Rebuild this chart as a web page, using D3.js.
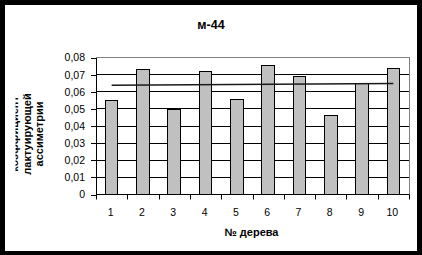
<!DOCTYPE html>
<html>
<head>
<meta charset="utf-8">
<script src="https://cdn.jsdelivr.net/npm/d3@7"></script>
<style>
  html, body { margin: 0; padding: 0; background: #000; }
  svg { display: block; font-family: "Liberation Sans", Arial, sans-serif; }
</style>
</head>
<body>
<div id="chart"></div>
<script>
// chart data
const treeNumbers = ["1", "2", "3", "4", "5", "6", "7", "8", "9", "10"];
const asymmetry = [0.0551, 0.0730, 0.0498, 0.0720, 0.0555, 0.0753, 0.0689, 0.0461, 0.0648, 0.0736];
// straight line drawn over the bars (from first to last tree)
const lineTrees = ["1", "10"];
const lineValues = [0.0638, 0.0648];
const yTickValues = [0, 0.01, 0.02, 0.03, 0.04, 0.05, 0.06, 0.07, 0.08];
const chartTitle = "м-44";
const xTitle = "№ дерева";
const yTitleLines = ["коэффициент", "лактуирующей", "ассиметрии"];

const width = 422, height = 255;
const plot = { left: 96, right: 409, top: 57.5, bottom: 194.5 };

const svg = d3.select("#chart").append("svg")
  .attr("width", width)
  .attr("height", height);

// black frame, white page
svg.append("rect").attr("width", width).attr("height", height).attr("fill", "#000");
svg.append("rect")
  .attr("x", 5).attr("y", 5)
  .attr("width", 412).attr("height", 246)
  .attr("fill", "#fff");

const x = d3.scaleBand()
  .domain(treeNumbers)
  .range([plot.left, plot.right])
  .paddingInner(0.6)
  .paddingOuter(0.3);

const y = d3.scaleLinear()
  .domain([0, 0.08])
  .range([plot.bottom, plot.top]);

const step = x.step();
const center = d => x(d) + x.bandwidth() / 2;

// gridlines (black), top one is the grey plot border
svg.append("g")
  .selectAll("line")
  .data(yTickValues.filter(v => v > 0 && v < 0.08))
  .join("line")
  .attr("x1", plot.left).attr("x2", plot.right)
  .attr("y1", d => y(d)).attr("y2", d => y(d))
  .attr("stroke", "#000")
  .attr("shape-rendering", "crispEdges");

svg.append("path")
  .attr("d", `M${plot.left},${plot.top}H${plot.right}V${plot.bottom}`)
  .attr("fill", "none")
  .attr("stroke", "#808080")
  .attr("shape-rendering", "crispEdges");

// bars
svg.append("g")
  .selectAll("rect")
  .data(treeNumbers)
  .join("rect")
  .attr("x", d => x(d))
  .attr("y", (d, i) => y(asymmetry[i]))
  .attr("width", x.bandwidth())
  .attr("height", (d, i) => y(0) - y(asymmetry[i]))
  .attr("fill", "#c0c0c0")
  .attr("stroke", "#000")
  .attr("shape-rendering", "crispEdges");

// line across the bars
svg.append("path")
  .datum(lineTrees.map((t, i) => [center(t), y(lineValues[i])]))
  .attr("d", d3.line())
  .attr("fill", "none")
  .attr("stroke", "#1a1a1a")
  .attr("stroke-width", 1.6);

// y axis
const yAxis = svg.append("g")
  .attr("transform", `translate(${plot.left},0)`)
  .call(d3.axisLeft(y)
    .tickValues(yTickValues)
    .tickSize(5)
    .tickPadding(6)
    .tickFormat(d => d === 0 ? "0" : d3.format(".2f")(d).replace(".", ",")));
yAxis.select(".domain").attr("stroke", "#000").attr("shape-rendering", "crispEdges");
yAxis.selectAll(".tick line").attr("stroke", "#000").attr("shape-rendering", "crispEdges");
yAxis.selectAll("text")
  .attr("font-family", "'Liberation Sans', Arial, sans-serif")
  .attr("font-size", 10.5)
  .attr("fill", "#000");

// x axis: line at zero, ticks between categories
const xg = svg.append("g");
xg.append("line")
  .attr("x1", plot.left).attr("x2", plot.right)
  .attr("y1", y(0)).attr("y2", y(0))
  .attr("stroke", "#000")
  .attr("shape-rendering", "crispEdges");
xg.selectAll(".xtick")
  .data(d3.range(treeNumbers.length + 1))
  .join("line")
  .attr("class", "xtick")
  .attr("x1", i => Math.round(plot.left + i * step) + 0.5)
  .attr("x2", i => Math.round(plot.left + i * step) + 0.5)
  .attr("y1", y(0)).attr("y2", y(0) + 5)
  .attr("stroke", "#000");
xg.selectAll(".xlabel")
  .data(treeNumbers)
  .join("text")
  .attr("class", "xlabel")
  .attr("x", d => center(d) - 1)
  .attr("y", 216)
  .attr("text-anchor", "middle")
  .attr("font-size", 10.5)
  .text(d => d);

// titles
svg.append("text")
  .attr("x", 211).attr("y", 28.5)
  .attr("text-anchor", "middle")
  .attr("font-size", 12.5)
  .attr("font-weight", "bold")
  .text(chartTitle);

svg.append("text")
  .attr("x", (plot.left + plot.right) / 2 - 1).attr("y", 235.5)
  .attr("text-anchor", "middle")
  .attr("font-size", 11)
  .attr("font-weight", "bold")
  .text(xTitle);

// rotated y title, clipped on the left like the original
svg.append("clipPath").attr("id", "ytclip")
  .append("rect").attr("x", 15.5).attr("y", 5).attr("width", 60).attr("height", 246);

svg.append("g")
  .attr("clip-path", "url(#ytclip)")
  .append("text")
  .attr("transform", "translate(18,134) rotate(-90)")
  .attr("text-anchor", "middle")
  .attr("font-size", 11)
  .attr("font-weight", "bold")
  .selectAll("tspan")
  .data(yTitleLines)
  .join("tspan")
  .attr("x", 0)
  .attr("dy", (d, i) => i === 0 ? 0 : 12.5)
  .text(d => d);
</script>
</body>
</html>
